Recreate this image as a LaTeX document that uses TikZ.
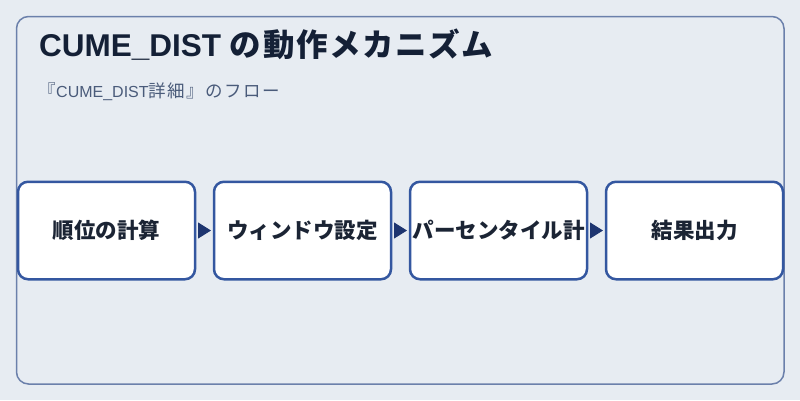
\documentclass[tikz,border=0pt]{standalone}
\usepackage{fontspec}
\setmainfont{Liberation Sans}
\newfontfamily\cjk{Noto Sans CJK JP}
\newfontfamily\cjktitle[LetterSpace=5]{Noto Sans CJK JP}
\newfontfamily\cjksub[LetterSpace=8]{Noto Sans CJK JP}
\usetikzlibrary{arrows.meta}
\definecolor{bgc}{HTML}{E7ECF2}
\definecolor{framec}{HTML}{6B80AB}
\definecolor{boxc}{HTML}{3457A0}
\definecolor{arrc}{HTML}{1E3570}
\definecolor{txtc}{HTML}{1B2434}
\definecolor{titc}{HTML}{142036}
\definecolor{subc}{HTML}{4A5B7A}
\tikzset{
  stepbox/.style={draw=boxc, line width=2.5pt, fill=white, rounded corners=10pt,
    minimum width=177pt, minimum height=97.5pt, inner sep=0pt, outer sep=0pt,
    font=\cjk\fontsize{21.5}{24}\selectfont\bfseries, text=txtc},
  flowarrow/.style={draw=arrc, line width=1pt, shorten <=3pt, shorten >=3pt,
    -{Triangle[length=13pt,width=16pt]}, arrc},
}
\begin{document}
\begin{tikzpicture}[x=1pt,y=-1pt]
\useasboundingbox (0,0) rectangle (800,400);
\fill[bgc] (0,0) rectangle (800,400);
\draw[framec, line width=1.5pt, rounded corners=12pt] (16.5,16.5) rectangle (784,384);
\node[anchor=base west, font=\fontsize{31.5}{36}\selectfont\bfseries, text=titc, inner sep=0pt] (title) at (39,56) {CUME\_DIST {\cjktitle\fontsize{31.5}{36}\selectfont\bfseries の動作メカニズム}};
\node[anchor=base west, font=\fontsize{16}{20}\selectfont, text=subc, inner sep=0pt] (sub) at (38.5,97) {{\cjksub\fontsize{17.5}{20}\selectfont 『}CUME\_DIST{\cjksub\fontsize{17.5}{20}\selectfont 詳細』のフロー}};
\node[stepbox] (s1) at (106.5,230.5) {順位の計算};
\node[stepbox] (s2) at (302.5,230.5) {ウィンドウ設定};
\node[stepbox] (s3) at (498.5,230.5) {パーセンタイル計};
\node[stepbox] (s4) at (694.5,230.5) {結果出力};
\draw[flowarrow] (s1.east) -- (s2.west);
\draw[flowarrow] (s2.east) -- (s3.west);
\draw[flowarrow] (s3.east) -- (s4.west);
\end{tikzpicture}
\end{document}
